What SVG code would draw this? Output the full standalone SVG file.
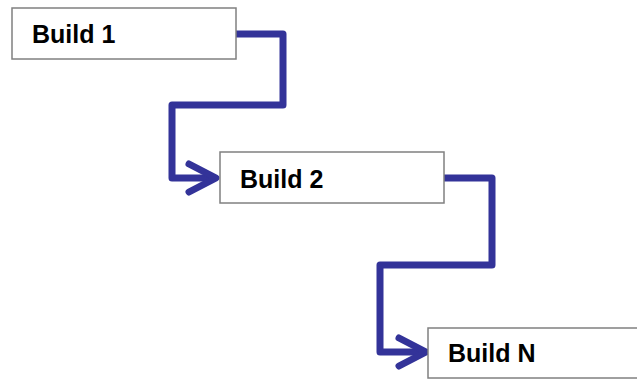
<svg xmlns="http://www.w3.org/2000/svg" width="637" height="379" viewBox="0 0 637 379">
<style>
.box{fill:#ffffff;stroke:#808080;stroke-width:1.5}
.lbl{font-family:"Liberation Sans",Arial,sans-serif;font-weight:bold;font-size:25px;fill:#000}
.con{fill:none;stroke:#333399;stroke-width:7;stroke-linejoin:round;stroke-linecap:butt}
.head{fill:none;stroke:#333399;stroke-width:7;stroke-linejoin:round;stroke-linecap:round}
</style>
<rect width="637" height="379" fill="#ffffff"/>
<g id="connectors">
<path class="con" d="M236,34 H283 V105 H172 V178 H214"/>
<polyline class="head" points="189,164 216,178 189,192"/>
<path class="con" d="M444,178 H492 V265 H380 V352 H424"/>
<polyline class="head" points="399,338 426,352 399,366"/>
</g>
<g id="build1">
<rect class="box" x="12" y="8" width="224" height="51"/>
<text class="lbl" x="32" y="43">Build 1</text>
</g>
<g id="build2">
<rect class="box" x="220" y="152" width="224" height="51"/>
<text class="lbl" x="240" y="188">Build 2</text>
</g>
<g id="buildN">
<rect class="box" x="428" y="328" width="224" height="50"/>
<text class="lbl" x="448" y="362">Build N</text>
</g>
</svg>
